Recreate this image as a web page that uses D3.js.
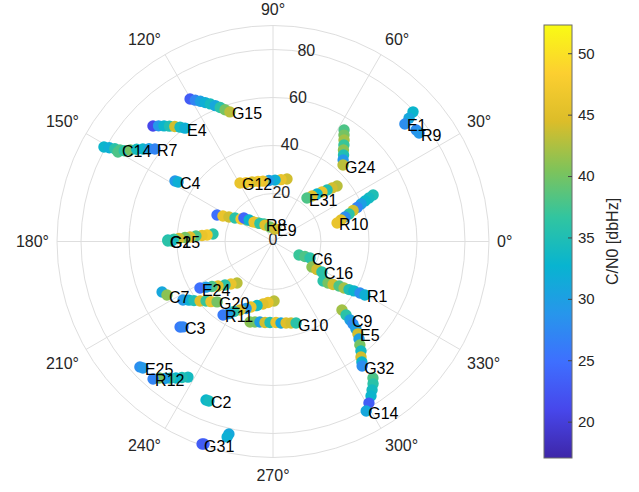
<!DOCTYPE html>
<html lang="en">
<head>
    <meta charset="UTF-8">
    <title>Skyplot C/N0</title>
    <script src="https://d3js.org/d3.v7.min.js"></script>
    <style>
        body {
            margin: 0;
            padding: 0;
            background: #fff;
            font-family: "Liberation Sans", Arial, sans-serif;
        }
        svg { display: block; }
    </style>
</head>
<body>
    <svg id="chart" width="639" height="492"></svg>

    <script>
        // satellites: azimuth (deg, ccw from east), radial value (0 centre .. 90 edge), C/N0 in dB-Hz
        const satNames = ['G15', 'E4', 'C14', 'R7', 'C4', 'G12', 'R8', 'E9', 'E31', 'G24', 'R10', 'E1', 'R9',
            'G25', 'G1', 'C6', 'C16', 'R1', 'C9', 'E5', 'G32', 'G14', 'G10', 'R11', 'G20', 'C7', 'E24', 'C3',
            'E25', 'R12', 'C2', 'G31'];

        const satAz = [
            [120.2, 118.8, 117.4, 116.0, 114.5, 113.0, 111.5, 110.0, 108.4],
            [136.1, 134.7, 133.3, 131.9, 130.5, 129.1, 127.8],
            [150.8, 150.2, 149.6, 149.1],
            [150.0, 148.6, 147.3, 145.9, 144.6, 143.2, 141.9],
            [148.3, 147.9],
            [77.4, 82.6, 88.1, 93.8, 99.4, 104.0, 109.4, 114.6, 119.4],
            [154.7, 153.0, 150.9, 148.3, 144.9, 140.4, 136.4, 129.0, 117.2],
            [141.0, 138.1, 134.3, 125.8, 115.9, 101.7, 80.9],
            [40.9, 42.2, 43.6, 45.3, 47.2, 49.4, 52.0],
            [57.5, 56.3, 55.0, 53.7, 52.4, 50.8, 49.3, 47.5],
            [24.9, 24.4, 23.8, 23.1, 22.0, 21.2, 19.9, 18.8, 17.5, 16.1],
            [42.8, 42.2, 41.7],
            [37.9, 36.6],
            [172.9, 174.4, 175.2, 175.9, 176.9, 177.4, 178.2, 178.6, 179.2],
            [179.7, 179.7],
            [332.6, 334.9, 336.0],
            [326.8, 327.5, 328.1],
            [321.7, 323.0, 324.4, 326.0, 326.8, 327.7, 328.6, 329.4, 329.8],
            [315.2, 314.8, 314.5],
            [314.1, 313.5, 312.6],
            [311.4, 310.0, 308.8, 307.3, 306.4, 305.6],
            [306.2, 305.1, 303.7, 302.4, 300.7, 298.8],
            [254.1, 257.4, 260.8, 264.4, 267.9, 272.1, 275.6, 279.1, 282.5, 285.8],
            [271.0, 265.3, 260.9, 256.0, 251.4, 248.1, 244.3, 240.9, 238.6, 235.8],
            [213.0, 214.9, 216.8, 219.2, 221.6, 224.1, 227.2],
            [204.5, 206.8],
            [229.1, 225.3, 222.2, 219.0, 216.4, 214.2, 212.5],
            [222.6, 223.5],
            [223.3, 224.2],
            [237.9, 236.2, 234.6, 233.0, 231.7, 230.2, 228.9],
            [247.1, 248.1],
            [257.1, 256.8, 251.2, 250.7]
        ];

        const satEl = [
            [68.7, 67.2, 65.8, 64.4, 63.0, 61.5, 60.0, 58.4, 56.9],
            [69.4, 67.8, 66.2, 64.6, 63.0, 61.4, 59.8],
            [80.7, 78.6, 76.4, 74.3],
            [74.6, 72.6, 70.6, 68.6, 66.5, 64.5, 62.5],
            [48.0, 46.7],
            [26.7, 26.0, 25.6, 25.5, 25.5, 25.8, 26.3, 27.0, 28.0],
            [25.8, 23.4, 21.0, 18.6, 16.3, 14.0, 12.1, 9.9, 8.2],
            [15.6, 13.4, 11.3, 9.3, 7.6, 6.2, 5.3],
            [35.3, 33.2, 31.1, 29.0, 27.0, 25.0, 23.0],
            [55.1, 53.3, 51.6, 49.9, 48.1, 46.5, 44.8, 43.2],
            [46.0, 43.9, 41.9, 39.9, 37.8, 35.8, 33.7, 31.7, 29.7, 27.8],
            [79.5, 76.5, 73.6],
            [75.6, 75.8],
            [25.2, 27.6, 29.7, 32.2, 34.6, 36.7, 39.2, 41.3, 43.8],
            [42.1, 43.8],
            [12.2, 14.7, 16.9],
            [19.4, 21.7, 24.0],
            [26.6, 28.7, 30.8, 33.2, 35.4, 37.5, 39.5, 42.1, 44.3],
            [40.5, 43.2, 45.8],
            [47.9, 50.2, 52.3],
            [54.2, 56.3, 58.5, 60.5, 62.4, 63.8],
            [70.5, 72.5, 74.4, 76.2, 78.3, 80.6],
            [34.9, 34.4, 34.0, 33.9, 33.8, 33.8, 34.1, 34.4, 34.8, 35.3],
            [24.8, 25.5, 26.4, 27.5, 28.8, 30.1, 31.7, 33.4, 35.2, 37.0],
            [44.7, 42.7, 41.1, 39.2, 37.3, 36.0, 34.3],
            [50.8, 49.5],
            [22.9, 24.9, 27.0, 29.5, 31.6, 33.8, 36.1],
            [52.6, 51.7],
            [76.2, 75.6],
            [66.7, 68.2, 69.8, 71.3, 72.7, 74.0, 76.0],
            [71.7, 71.6],
            [82.3, 83.7, 89.1, 89.4]
        ];

        const satCn0 = [
            [23, 27, 30, 32, 34, 31, 36, 40, 43],
            [21, 29, 33, 35, 44, 34, 32],
            [33, 32, 36, 38],
            [38, 36, 40, 34, 33, 30, 27],
            [29, 32],
            [44, 46, 32, 30, 46, 47, 45, 47, 46],
            [25, 46, 44, 36, 47, 38, 45, 40, 36],
            [24, 33, 46, 36, 45, 40, 44],
            [43, 44, 35, 46, 33, 45, 38],
            [38, 40, 42, 37, 41, 35, 29, 43],
            [35, 34, 33, 30, 27, 44, 36, 28, 45, 46],
            [33, 31, 28],
            [28, 29],
            [36, 47, 46, 38, 45, 40, 44, 37, 35],
            [34, 36],
            [37, 38, 36],
            [41, 44, 36],
            [36, 40, 44, 38, 42, 35, 33, 28, 32],
            [42, 36, 30],
            [28, 30, 44],
            [30, 40, 34, 44, 33, 28],
            [38, 36, 34, 33, 23, 31],
            [41, 40, 30, 44, 35, 46, 31, 45, 44, 36],
            [43, 46, 45, 34, 46, 29, 45, 36, 30, 26],
            [29, 32, 35, 45, 37, 46, 40],
            [31, 41],
            [43, 46, 36, 45, 38, 30, 25],
            [26, 27],
            [28, 29],
            [34, 35, 33, 36, 30, 40, 27],
            [33, 34],
            [31, 32, 24, 23]
        ];

        const radialTicks = [0, 20, 40, 60, 80];
        const radialRings = [20, 40, 60, 80, 90];
        const angleTicks = [0, 30, 60, 90, 120, 150, 180, 210, 240, 270, 300, 330];
        const colorTicks = [20, 25, 30, 35, 40, 45, 50];
        const colorLimits = [17.04, 52.3];
        const parula = ['#3e26a8', '#4747eb', '#3e6fff', '#2796eb', '#08b4d0',
            '#31c5a0', '#80c359', '#dcbd29', '#fccf30', '#f9fb14'];

        const svg = d3.select('#chart');
        const cx = 273, cy = 241.5, outerR = 216;
        const gridColor = '#dedede';
        const textColor = '#262626';

        const rScale = d3.scaleLinear().domain([0, 90]).range([0, outerR]);
        const toXY = (az, r) => {
            const a = az * Math.PI / 180;
            return [cx + rScale(r) * Math.cos(a), cy - rScale(r) * Math.sin(a)];
        };

        const colorDomain = parula.map((c, i) => colorLimits[0] + i * (colorLimits[1] - colorLimits[0]) / (parula.length - 1));
        const color = d3.scaleLinear().domain(colorDomain).range(parula).interpolate(d3.interpolateRgb).clamp(true);

        // grid
        const grid = svg.append('g');
        grid.selectAll('circle')
            .data(radialRings)
            .enter().append('circle')
            .attr('cx', cx).attr('cy', cy)
            .attr('r', d => rScale(d))
            .attr('fill', 'none')
            .attr('stroke', gridColor)
            .attr('stroke-width', 1);

        grid.selectAll('line')
            .data(angleTicks)
            .enter().append('line')
            .attr('x1', cx).attr('y1', cy)
            .attr('x2', d => toXY(d, 90)[0])
            .attr('y2', d => toXY(d, 90)[1])
            .attr('stroke', gridColor)
            .attr('stroke-width', 1);

        // angle labels
        svg.append('g').selectAll('text')
            .data(angleTicks)
            .enter().append('text')
            .attr('x', d => toXY(d, 90)[0] + Math.cos(d * Math.PI / 180) * 8)
            .attr('y', d => {
                const s = Math.sin(d * Math.PI / 180);
                const y = cy - (outerR + 8) * s;
                if (s > 0.1) return y - 8;
                if (s < -0.1) return y + 10;
                return y;
            })
            .attr('text-anchor', d => {
                const c = Math.cos(d * Math.PI / 180);
                return c > 0.1 ? 'start' : (c < -0.1 ? 'end' : 'middle');
            })
            .attr('dominant-baseline', 'central')
            .attr('font-size', 16)
            .attr('fill', textColor)
            .text(d => d + '°');

        // radial labels along 80 deg
        svg.append('g').selectAll('text')
            .data(radialTicks)
            .enter().append('text')
            .attr('x', d => toXY(80, d)[0])
            .attr('y', d => toXY(80, d)[1] - 2)
            .attr('text-anchor', 'middle')
            .attr('dominant-baseline', 'central')
            .attr('font-size', 16)
            .attr('fill', textColor)
            .text(d => d);

        // satellite tracks
        const sats = satNames.map((name, i) => ({
            name: name,
            pts: satAz[i].map((az, j) => ({ az: az, r: satEl[i][j], cn0: satCn0[i][j] }))
        }));

        const tracks = svg.append('g').selectAll('g')
            .data(sats)
            .enter().append('g');

        tracks.selectAll('circle')
            .data(d => d.pts)
            .enter().append('circle')
            .attr('cx', d => toXY(d.az, d.r)[0])
            .attr('cy', d => toXY(d.az, d.r)[1])
            .attr('r', 5.7)
            .attr('fill', d => color(d.cn0));

        svg.append('g').selectAll('text')
            .data(sats)
            .enter().append('text')
            .attr('x', d => { const p = d.pts[d.pts.length - 1]; return toXY(p.az, p.r)[0] + 2; })
            .attr('y', d => { const p = d.pts[d.pts.length - 1]; return toXY(p.az, p.r)[1] + 2; })
            .attr('dominant-baseline', 'central')
            .attr('font-size', 16)
            .attr('fill', '#000')
            .text(d => d.name);

        // colorbar
        const cbX = 544, cbW = 28, cbTop = 25, cbBottom = 458;
        const cbScale = d3.scaleLinear().domain(colorLimits).range([cbBottom, cbTop]);

        const grad = svg.append('defs').append('linearGradient')
            .attr('id', 'parulaGrad')
            .attr('x1', 0).attr('y1', 1).attr('x2', 0).attr('y2', 0);
        grad.selectAll('stop')
            .data(parula)
            .enter().append('stop')
            .attr('offset', (d, i) => i / (parula.length - 1))
            .attr('stop-color', d => d);

        svg.append('rect')
            .attr('x', cbX).attr('y', cbTop)
            .attr('width', cbW).attr('height', cbBottom - cbTop)
            .attr('fill', 'url(#parulaGrad)')
            .attr('stroke', '#6b6b6b')
            .attr('stroke-width', 1);

        const cbAxis = svg.append('g')
            .attr('transform', `translate(${cbX + cbW},0)`)
            .call(d3.axisRight(cbScale).tickValues(colorTicks).tickSizeInner(-4).tickSizeOuter(0).tickPadding(6));
        cbAxis.select('.domain').remove();
        cbAxis.selectAll('line').attr('stroke', '#444');
        cbAxis.selectAll('text')
            .attr('font-size', 15)
            .attr('font-family', '"Liberation Sans", Arial, sans-serif')
            .attr('fill', textColor);

        svg.append('text')
            .attr('transform', `translate(612,${(cbTop + cbBottom) / 2}) rotate(-90)`)
            .attr('text-anchor', 'middle')
            .attr('dominant-baseline', 'central')
            .attr('font-size', 16)
            .attr('fill', textColor)
            .text('C/N0 [dbHz]');
    </script>
</body>
</html>
